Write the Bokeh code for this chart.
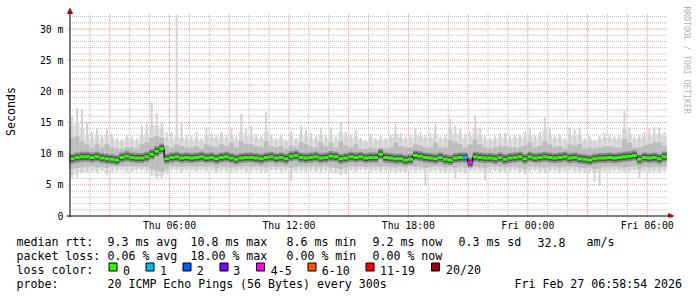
from bokeh.plotting import figure
from bokeh.layouts import column
from bokeh.models import Range1d, FixedTicker, Arrow, NormalHead, ColumnDataSource
from bokeh.core.properties import value
from bokeh.embed import file_html
from bokeh.resources import INLINE

# ---------------- data ----------------
# time in hours since Thu 00:00; graph spans Thu 00:58:54 .. Fri 06:58:54
T_START = 58 / 60 + 54 / 3600
T_SPAN = 30.0
STEP = 0.25  # hours per drawn step

# median RTT per step (ms)
median = [
    9.2, 9.4, 9.5, 9.5, 9.4, 9.5, 9.3, 9.2, 9.1, 9.0, 9.4, 9.6,
    9.4, 9.3, 9.3, 9.5, 9.9, 10.4, 10.8, 9.2, 9.4, 9.5, 9.3, 9.4,
    9.3, 9.4, 9.5, 9.3, 9.4, 9.2, 9.4, 9.5, 9.3, 9.1, 9.3, 9.4,
    9.4, 9.3, 9.2, 9.4, 9.5, 9.3, 9.4, 9.2, 9.6, 9.7, 9.4, 9.3,
    9.4, 9.5, 9.3, 9.4, 9.6, 9.5, 9.2, 9.3, 9.5, 9.4, 9.5, 9.3,
    9.4, 9.4, 9.9, 9.4, 9.3, 9.2, 9.2, 9.0, 9.1, 9.7, 9.6, 9.4,
    9.3, 9.2, 9.4, 9.1, 9.0, 9.3, 9.4, 9.4, 8.6, 9.5, 9.4, 9.3,
    9.3, 9.2, 9.4, 9.1, 9.3, 9.4, 9.5, 9.2, 9.5, 9.3, 9.4, 9.5,
    9.4, 9.3, 9.4, 9.5, 9.3, 9.4, 9.2, 9.1, 9.0, 9.2, 9.3, 9.3,
    9.4, 9.3, 9.4, 9.5, 9.6, 9.7, 9.1, 9.4, 9.3, 9.4, 9.2, 9.5,
]
# lost pings per step (of 20)
loss = [
    0, 0, 0, 0, 0, 0, 0, 0, 0, 0, 0, 0,
    0, 0, 0, 0, 0, 0, 0, 0, 0, 0, 0, 0,
    0, 0, 0, 0, 0, 0, 0, 0, 0, 0, 0, 0,
    0, 0, 0, 0, 0, 0, 0, 0, 0, 0, 0, 0,
    0, 0, 0, 0, 0, 0, 0, 0, 0, 0, 0, 0,
    0, 0, 0, 0, 0, 0, 0, 0, 0, 0, 0, 0,
    0, 0, 0, 0, 0, 0, 0, 1, 4, 0, 0, 0,
    0, 0, 0, 0, 0, 0, 0, 0, 0, 0, 0, 0,
    0, 0, 0, 0, 0, 0, 0, 0, 0, 0, 0, 0,
    0, 0, 0, 0, 0, 0, 0, 0, 0, 0, 0, 0,
]
# fastest ping per step (ms)
ping_min = [
    6.0, 6.2, 6.8, 7.0, 7.1, 7.0, 7.2, 6.5, 7.1, 7.2, 7.3, 7.1,
    7.1, 7.2, 7.3, 7.1, 6.4, 5.8, 6.0, 6.6, 7.2, 7.3, 7.0, 7.2,
    7.2, 7.1, 7.3, 7.1, 7.2, 6.9, 7.2, 7.1, 6.9, 7.1, 7.2, 7.0,
    7.1, 7.2, 7.0, 6.9, 7.3, 7.2, 7.1, 7.2, 5.6, 7.1, 7.2, 7.0,
    7.2, 7.1, 7.1, 7.2, 7.0, 6.8, 6.5, 6.6, 7.2, 7.1, 7.3, 7.2,
    7.1, 7.2, 7.1, 7.2, 7.1, 6.9, 7.0, 7.0, 7.2, 7.1, 7.2, 4.8,
    7.1, 7.2, 7.1, 7.0, 7.1, 6.0, 7.0, 6.8, 7.1, 7.2, 7.1, 5.6,
    7.1, 7.2, 7.0, 6.9, 7.1, 7.2, 6.9, 6.6, 7.1, 7.2, 7.0, 6.9,
    7.1, 7.2, 6.9, 7.1, 7.2, 7.0, 6.9, 6.8, 6.9, 5.5, 4.8, 7.1,
    7.1, 7.2, 7.1, 6.9, 7.1, 7.2, 6.0, 7.1, 7.0, 7.1, 6.9, 7.1,
]
# lower edge of the light smoke (ms)
smoke_lo = [
    6.6, 6.8, 7.0, 7.2, 7.3, 7.2, 7.3, 7.0, 7.3, 7.4, 7.4, 7.3,
    7.3, 7.4, 7.4, 7.3, 6.8, 6.4, 6.4, 7.0, 7.4, 7.4, 7.3, 7.4,
    7.4, 7.3, 7.4, 7.3, 7.4, 7.2, 7.4, 7.3, 7.2, 7.3, 7.4, 7.3,
    7.3, 7.4, 7.3, 7.2, 7.4, 7.4, 7.3, 7.4, 7.1, 7.3, 7.4, 7.3,
    7.4, 7.3, 7.3, 7.4, 7.2, 7.0, 6.8, 6.9, 7.4, 7.3, 7.4, 7.4,
    7.3, 7.4, 7.3, 7.4, 7.3, 7.2, 7.2, 7.2, 7.4, 7.3, 7.4, 7.2,
    7.3, 7.4, 7.3, 7.2, 7.3, 7.0, 7.2, 7.1, 7.3, 7.4, 7.3, 7.1,
    7.3, 7.4, 7.2, 7.2, 7.3, 7.4, 7.2, 7.0, 7.3, 7.4, 7.3, 7.2,
    7.3, 7.4, 7.2, 7.3, 7.4, 7.3, 7.2, 7.1, 7.2, 7.0, 7.0, 7.3,
    7.3, 7.4, 7.3, 7.2, 7.3, 7.4, 7.0, 7.3, 7.2, 7.3, 7.2, 7.3,
]
# lower edge of the middle smoke (ms)
mid_lo = [
    7.5, 7.7, 7.8, 7.9, 8.0, 7.8, 7.9, 7.7, 8.0, 7.9, 8.0, 8.0,
    8.0, 7.9, 8.0, 7.9, 7.5, 7.3, 7.1, 7.5, 8.0, 8.0, 7.9, 8.0,
    8.0, 7.9, 8.0, 7.9, 8.0, 7.8, 8.0, 7.9, 7.8, 7.9, 7.9, 8.0,
    7.9, 8.0, 7.9, 7.8, 8.0, 7.9, 8.0, 7.9, 7.7, 7.9, 8.0, 7.9,
    8.0, 7.9, 7.9, 8.0, 7.8, 7.7, 7.5, 7.8, 8.0, 7.9, 8.0, 7.9,
    7.9, 8.0, 7.9, 8.0, 7.9, 7.8, 7.9, 7.8, 8.0, 7.9, 8.0, 7.7,
    7.9, 8.0, 7.9, 7.8, 7.9, 7.7, 7.9, 7.8, 7.9, 8.0, 7.8, 7.7,
    7.9, 8.0, 7.9, 7.8, 7.9, 8.0, 7.8, 7.5, 7.9, 8.0, 7.9, 7.8,
    7.9, 8.0, 7.8, 7.9, 8.0, 7.9, 7.8, 7.7, 7.8, 7.5, 7.6, 7.9,
    7.9, 8.0, 7.9, 7.8, 7.9, 8.0, 7.6, 7.9, 7.8, 7.9, 7.8, 7.9,
]
# upper edge of the middle smoke (ms)
mid_hi = [
    12.5, 12.8, 12.0, 11.5, 11.0, 11.5, 11.0, 11.5, 11.0, 10.8, 10.8, 11.0,
    11.0, 10.8, 11.5, 11.8, 12.5, 12.8, 12.5, 11.3, 11.0, 11.5, 11.2, 11.0,
    11.0, 11.2, 10.8, 11.5, 11.2, 11.0, 11.5, 11.2, 11.8, 11.0, 12.0, 11.5,
    11.5, 11.2, 11.0, 12.0, 11.2, 11.0, 11.2, 10.8, 11.3, 11.0, 11.8, 11.5,
    11.2, 11.0, 11.8, 11.2, 11.8, 11.0, 12.0, 11.3, 11.0, 11.5, 10.8, 10.8,
    11.0, 10.8, 11.0, 10.8, 11.0, 11.8, 11.2, 11.0, 11.0, 11.5, 11.3, 11.0,
    11.0, 11.8, 11.0, 11.0, 12.2, 11.8, 11.5, 11.0, 11.5, 12.3, 11.5, 11.0,
    10.8, 11.0, 11.2, 11.2, 11.0, 11.0, 11.0, 11.3, 11.8, 11.0, 11.3, 12.0,
    11.5, 11.0, 11.2, 10.8, 11.5, 11.3, 11.5, 10.8, 11.0, 10.8, 11.0, 11.2,
    11.2, 11.0, 11.0, 12.3, 11.8, 11.0, 11.0, 11.3, 11.5, 11.8, 11.8, 11.3,
]
# upper edge of the light smoke (ms)
smoke_hi = [
    14.5, 15.0, 14.0, 13.0, 12.5, 13.0, 12.5, 13.0, 12.5, 12.0, 12.0, 12.5,
    12.3, 12.0, 13.0, 13.2, 14.5, 14.5, 14.0, 12.5, 12.3, 12.8, 12.5, 12.3,
    12.2, 12.5, 12.0, 13.0, 12.6, 12.5, 12.8, 12.5, 13.0, 12.3, 13.5, 12.8,
    13.0, 12.5, 12.3, 13.5, 12.5, 12.2, 12.5, 12.0, 12.8, 12.2, 13.0, 12.8,
    12.5, 12.3, 13.0, 12.5, 13.0, 12.3, 13.5, 12.8, 12.5, 12.8, 12.2, 12.0,
    12.5, 12.2, 12.3, 12.2, 12.5, 13.2, 12.6, 12.3, 12.5, 13.0, 12.8, 12.5,
    12.5, 13.2, 12.3, 12.5, 13.8, 13.2, 13.0, 12.5, 12.8, 14.0, 13.0, 12.3,
    12.2, 12.3, 12.6, 12.6, 12.3, 12.5, 12.5, 12.8, 13.0, 12.5, 12.8, 13.8,
    13.0, 12.3, 12.6, 12.2, 13.0, 12.8, 13.0, 12.2, 12.3, 12.0, 12.3, 12.6,
    12.6, 12.3, 12.5, 14.0, 13.2, 12.3, 12.5, 12.8, 13.0, 13.2, 13.2, 12.8,
]
# slowest ping per step (ms)
ping_max = [
    16.0, 17.3, 17.0, 15.0, 13.5, 14.0, 13.0, 14.0, 13.2, 12.5, 12.3, 13.0,
    12.8, 12.5, 14.5, 14.8, 18.3, 16.5, 15.0, 13.5, 13.5, 32.3, 15.0, 13.0,
    12.8, 13.5, 12.5, 14.2, 13.2, 13.0, 13.5, 13.0, 14.0, 12.8, 16.4, 14.0,
    14.5, 13.2, 12.8, 16.7, 13.0, 12.5, 13.0, 12.2, 13.5, 12.5, 14.5, 13.8,
    13.3, 12.8, 14.2, 13.0, 14.2, 12.8, 15.0, 13.5, 13.0, 13.8, 12.5, 12.2,
    13.2, 12.5, 12.8, 12.5, 13.0, 14.8, 13.3, 12.8, 13.0, 14.0, 13.5, 13.0,
    13.3, 14.8, 12.8, 13.0, 15.6, 14.5, 14.0, 13.2, 13.5, 16.1, 14.2, 12.8,
    12.5, 12.8, 13.3, 13.3, 12.8, 13.0, 13.0, 13.5, 14.0, 13.0, 13.5, 15.8,
    14.0, 12.8, 13.2, 12.5, 14.2, 13.8, 14.2, 12.5, 12.8, 12.2, 12.8, 13.3,
    13.2, 12.8, 13.0, 16.9, 14.2, 12.8, 13.0, 13.5, 14.0, 14.2, 14.2, 13.5,
]

y_tick_values = [0, 5, 10, 15, 20, 25, 30]
y_tick_labels = ["0", "5 m", "10 m", "15 m", "20 m", "25 m", "30 m"]
x_tick_values = [6, 12, 18, 24, 30]
x_tick_labels = ["Thu 06:00", "Thu 12:00", "Thu 18:00", "Fri 00:00", "Fri 06:00"]

loss_legend = ["0", "1", "2", "3", "4-5", "6-10", "11-19", "20/20"]
loss_colors = ["#26ff00", "#00b8ff", "#0059ff", "#7e00ff", "#ff00ff",
               "#ff5500", "#ff0000", "#a00000"]

rtt_stats = ["9.3 ms avg", "10.8 ms max", "8.6 ms min", "9.2 ms now",
             "0.3 ms sd", "32.8", "am/s"]
loss_stats = ["0.06 % avg", "18.00 % max", "0.00 % min", "0.00 % now"]
probe_text = "20 ICMP Echo Pings (56 Bytes) every 300s"
stamp_text = "Fri Feb 27 06:58:54 2026"

# ---------------- derived drawing sources ----------------
N = len(median)
t0 = [T_START + i * STEP for i in range(N)]
t1 = [t + STEP for t in t0]
tc = [t + STEP / 2 for t in t0]
T_END = T_START + T_SPAN


def loss_bucket(n):
    if n <= 3:
        return n
    if n <= 5:
        return 4
    if n <= 10:
        return 5
    if n <= 19:
        return 6
    return 7


src = ColumnDataSource(dict(
    t0=t0, t1=t1, tc=tc, median=median, pmin=ping_min, slo=smoke_lo,
    mlo=mid_lo, mhi=mid_hi, shi=smoke_hi, pmax=ping_max,
    mcol=[loss_colors[loss_bucket(n)] for n in loss],
))

MONO = "DejaVu Sans Mono"
PX_PER_H = 20.0          # x scale
PX_PER_MS = 187 / 30.0   # y scale
AXIS_H = 1.0             # hour at which the value axis sits
Y_TOP = 32.5             # top of the graph area (ms)

# ---------------- main chart ----------------
H1 = 236
p = figure(width=697, height=H1, output_backend="svg", toolbar_location=None,
           title=None,
           x_range=Range1d(AXIS_H - 3.5 / PX_PER_H, AXIS_H + 630.5 / PX_PER_H),
           y_range=Range1d(-1.5 / PX_PER_MS, 210.5 / PX_PER_MS),
           min_border_left=63, min_border_right=0,
           min_border_top=5, min_border_bottom=H1 - 217)
p.frame_align = False
p.outline_line_color = None
p.background_fill_color = "white"
p.border_fill_color = "white"
p.xgrid.visible = False
p.ygrid.visible = False

# grid lines (dotted): minor grey, major red
minor_x = [h for h in range(2, 31) if h % 3 != 0]
major_x = [h for h in range(3, 31, 3)]
minor_y = [v for v in range(1, 33) if v % 5 != 0]
major_y = [5, 10, 15, 20, 25, 30]
GRID_MINOR = "#bdbdbd"
GRID_MAJOR = "#ee8a8a"
p.segment(x0=minor_x, x1=minor_x, y0=[0] * len(minor_x), y1=[Y_TOP] * len(minor_x),
          line_color=GRID_MINOR, line_dash="1 1", line_width=1)
p.segment(x0=[AXIS_H] * len(minor_y), x1=[T_END] * len(minor_y), y0=minor_y, y1=minor_y,
          line_color=GRID_MINOR, line_dash="1 1", line_width=1)
p.segment(x0=major_x, x1=major_x, y0=[-0.3] * len(major_x), y1=[Y_TOP] * len(major_x),
          line_color=GRID_MAJOR, line_dash="1 1", line_width=1)
p.segment(x0=[AXIS_H - 0.1] * len(major_y), x1=[T_END] * len(major_y), y0=major_y, y1=major_y,
          line_color=GRID_MAJOR, line_dash="1 1", line_width=1)

# smoke
p.quad(left="t0", right="t1", bottom="slo", top="shi", source=src,
       fill_color="#dcdcdc", line_color=None)
p.vbar(x="tc", width=0.1, bottom="pmin", top="pmax", source=src,
       fill_color="#d2d2d2", line_color=None)
p.quad(left="t0", right="t1", bottom="mlo", top="mhi", source=src,
       fill_color="#bdbdbd", line_color=None)
p.segment(x0="t0", x1="t1", y0="median", y1="median", source=src,
          line_color="#8a8a8a", line_width=10, line_cap="butt")
p.segment(x0="t0", x1="t1", y0="median", y1="median", source=src,
          line_color="#4e4e4e", line_width=6, line_cap="butt")
# median, coloured by loss
p.step(x=t0 + [t1[-1]], y=median + [median[-1]], mode="after",
       line_color="#000000", line_width=1.2)
p.segment(x0="t0", x1="t1", y0="median", y1="median", source=src,
          line_color="mcol", line_width=3, line_cap="butt")

# axes (labels only; lines drawn as arrows)
ax = p.xaxis[0]
ax.ticker = FixedTicker(ticks=x_tick_values)
ax.major_label_overrides = dict(zip(x_tick_values, x_tick_labels))
ax.axis_line_color = None
ax.major_tick_line_color = None
ax.minor_tick_line_color = None
ax.major_tick_out = 0
ax.major_tick_in = 0
ax.major_label_standoff = 2
ax.major_label_text_font = MONO
ax.major_label_text_font_size = "9.8px"
ax.major_label_text_color = "#000000"

ay = p.yaxis[0]
ay.ticker = FixedTicker(ticks=y_tick_values)
ay.major_label_overrides = dict(zip(y_tick_values, y_tick_labels))
ay.axis_line_color = None
ay.major_tick_line_color = None
ay.minor_tick_line_color = None
ay.major_tick_out = 0
ay.major_tick_in = 0
ay.major_label_standoff = 3
ay.major_label_text_font = MONO
ay.major_label_text_font_size = "9.8px"
ay.major_label_text_color = "#000000"
ay.axis_label = "Seconds"
ay.axis_label_text_font = MONO
ay.axis_label_text_font_size = "11.6px"
ay.axis_label_text_font_style = "normal"
ay.axis_label_text_color = "#000000"
ay.axis_label_standoff = 19

# axis lines with arrow heads
HEAD = dict(size=5, fill_color="#a01010", line_color="#a01010")
p.add_layout(Arrow(x_start=AXIS_H, y_start=-1.5 / PX_PER_MS, x_end=AXIS_H,
                   y_end=207.5 / PX_PER_MS, line_color="#000000", line_width=1,
                   end=NormalHead(**HEAD)))
p.add_layout(Arrow(x_start=AXIS_H - 3.5 / PX_PER_H, y_start=0,
                   x_end=AXIS_H + 606.5 / PX_PER_H, y_end=0,
                   line_color="#000000", line_width=1, end=NormalHead(**HEAD)))

# watermark
p.text(x=[AXIS_H + 620 / PX_PER_H], y=[209.5 / PX_PER_MS],
       text=["RRDTOOL / TOBI OETIKER"], angle=-90, angle_units="deg",
       text_font=value(MONO), text_font_size="8.1px", text_color="#b4b4b4",
       text_align="left", text_baseline="middle")

# ---------------- legend strip (pixel coordinates) ----------------
H2 = 297 - H1
q = figure(width=697, height=H2, output_backend="svg", toolbar_location=None,
           title=None, x_range=Range1d(0, 697), y_range=Range1d(H2, 0),
           x_axis_type=None, y_axis_type=None,
           min_border_left=0, min_border_right=0, min_border_top=0,
           min_border_bottom=0)
q.frame_align = False
q.outline_line_color = None
q.background_fill_color = "white"
q.border_fill_color = "white"

rows_x, rows_y, rows_t = [], [], []
DY = -3.0


def put(x, y, s):
    rows_x.append(x)
    rows_y.append(y - H1 + DY)
    rows_t.append(s)


put(16, 244.7, "median rtt:")
for xx, s in zip([107, 190, 286, 372, 458, 537, 586], rtt_stats):
    put(xx, 244.7, s)
put(16, 258.7, "packet loss:")
for xx, s in zip([107, 190, 286, 372], loss_stats):
    put(xx, 258.7, s)
put(16, 272.7, "loss color:")
box_left = [108.5, 145.5, 182.5, 219.5, 256.0, 307.5, 365.5, 431.0]
text_left = [122.6, 159.5, 196.2, 232.8, 270.2, 321.2, 379.5, 445.5]
for tl, s in zip(text_left, loss_legend):
    put(tl, 272.7, s)
put(16, 286.5, "probe:")
put(107, 286.5, probe_text)
put(514, 286.5, stamp_text)

q.text(x=rows_x, y=rows_y, text=rows_t, text_font=value(MONO),
       text_font_size="11.6px", text_color="#000000", text_align="left",
       text_baseline="alphabetic")
q.quad(left=box_left, right=[b + 8 for b in box_left],
       top=[265.5 - H1 + DY] * len(box_left),
       bottom=[273.5 - H1 + DY] * len(box_left),
       fill_color=loss_colors, line_color="#000000", line_width=1)

layout = column(p, q, spacing=0)
open("out.html", "w").write(file_html(layout, INLINE))
